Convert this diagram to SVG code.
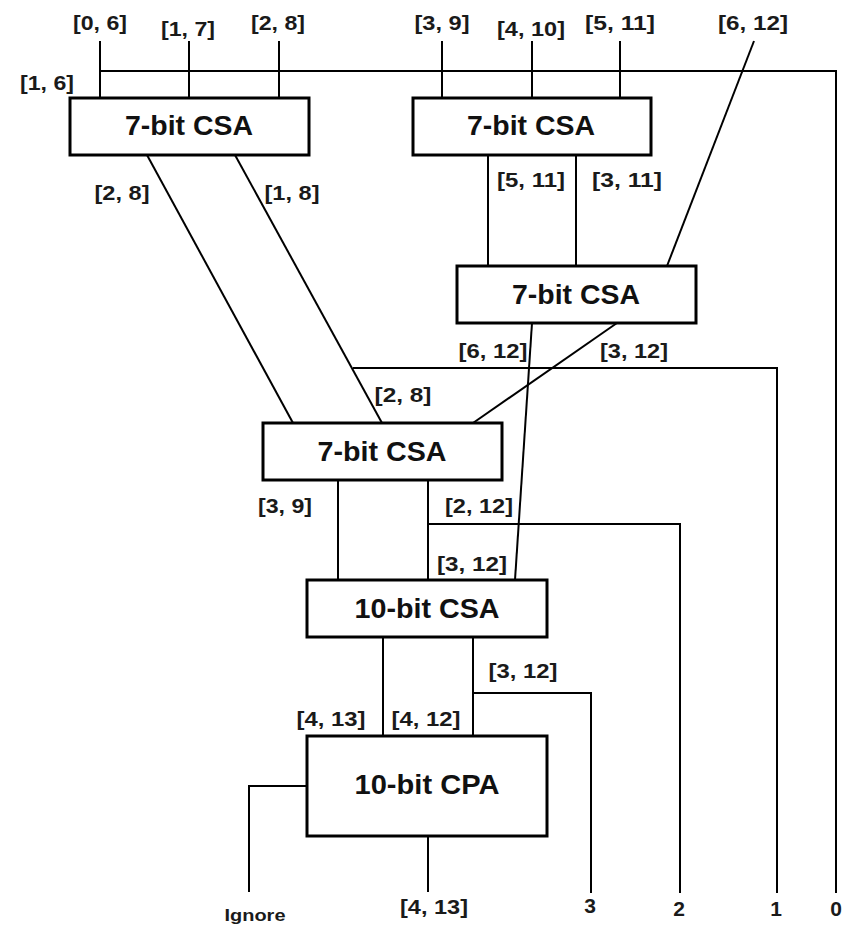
<svg xmlns="http://www.w3.org/2000/svg" width="852" height="926" viewBox="0 0 852 926">
<style>
.box{fill:#fff;stroke:#000;stroke-width:3}
.w{fill:none;stroke:#000;stroke-width:2;stroke-linejoin:miter}
.bt{font-family:"Liberation Sans",Arial,sans-serif;font-weight:bold;font-size:28px;text-anchor:middle;fill:#111}
.lb{font-family:"Liberation Sans",Arial,sans-serif;font-weight:bold;font-size:21px;text-anchor:middle;fill:#1a1a1a}
.sm{font-family:"Liberation Sans",Arial,sans-serif;font-weight:bold;font-size:17px;text-anchor:middle;fill:#1a1a1a}
</style>
<rect width="852" height="926" fill="#fff"/>
<g id="connectors">
<line class="w" x1="100" y1="41" x2="100" y2="98"/>
<line class="w" x1="189" y1="41" x2="189" y2="98"/>
<line class="w" x1="279" y1="41" x2="279" y2="98"/>
<polyline class="w" points="100,71 836,71 836,893"/>
<line class="w" x1="442" y1="41" x2="442" y2="98"/>
<line class="w" x1="532" y1="41" x2="532" y2="98"/>
<line class="w" x1="620" y1="41" x2="620" y2="98"/>
<line class="w" x1="754" y1="41" x2="667" y2="266"/>
<line class="w" x1="488" y1="155" x2="488" y2="266"/>
<line class="w" x1="576" y1="155" x2="576" y2="266"/>
<line class="w" x1="147" y1="155" x2="293" y2="423"/>
<line class="w" x1="235" y1="155" x2="382" y2="423"/>
<polyline class="w" points="353,368 777,368 777,893"/>
<line class="w" x1="532" y1="323" x2="515" y2="580"/>
<line class="w" x1="617" y1="323" x2="473" y2="423"/>
<line class="w" x1="338" y1="480" x2="338" y2="580"/>
<line class="w" x1="428" y1="480" x2="428" y2="580"/>
<polyline class="w" points="428,524 680,524 680,893"/>
<line class="w" x1="383" y1="637" x2="383" y2="736"/>
<line class="w" x1="473" y1="637" x2="473" y2="736"/>
<polyline class="w" points="473,693 591,693 591,893"/>
<polyline class="w" points="307,786 249,786 249,892"/>
<line class="w" x1="428" y1="836" x2="428" y2="892"/>
</g>
<g id="csa1">
<rect class="box" x="70" y="98" width="239" height="57"/>
<text class="bt" x="189" y="135" textLength="128" lengthAdjust="spacingAndGlyphs">7-bit CSA</text>
</g>
<g id="csa2">
<rect class="box" x="413" y="98" width="238" height="57"/>
<text class="bt" x="531" y="135" textLength="128" lengthAdjust="spacingAndGlyphs">7-bit CSA</text>
</g>
<g id="csa3">
<rect class="box" x="457" y="266" width="239" height="57"/>
<text class="bt" x="576" y="304" textLength="128" lengthAdjust="spacingAndGlyphs">7-bit CSA</text>
</g>
<g id="csa4">
<rect class="box" x="263" y="423" width="239" height="57"/>
<text class="bt" x="382" y="461" textLength="129" lengthAdjust="spacingAndGlyphs">7-bit CSA</text>
</g>
<g id="csa10">
<rect class="box" x="307" y="580" width="240" height="57"/>
<text class="bt" x="427" y="618" textLength="145" lengthAdjust="spacingAndGlyphs">10-bit CSA</text>
</g>
<g id="cpa10">
<rect class="box" x="307" y="736" width="240" height="100"/>
<text class="bt" x="427" y="794" textLength="145" lengthAdjust="spacingAndGlyphs">10-bit CPA</text>
</g>
<g id="labels">
<text class="lb" x="100" y="30" textLength="54" lengthAdjust="spacingAndGlyphs">[0, 6]</text>
<text class="lb" x="188" y="36" textLength="54" lengthAdjust="spacingAndGlyphs">[1, 7]</text>
<text class="lb" x="278" y="30" textLength="54" lengthAdjust="spacingAndGlyphs">[2, 8]</text>
<text class="lb" x="47" y="90" textLength="54" lengthAdjust="spacingAndGlyphs">[1, 6]</text>
<text class="lb" x="442" y="30" textLength="55" lengthAdjust="spacingAndGlyphs">[3, 9]</text>
<text class="lb" x="531" y="36" textLength="68" lengthAdjust="spacingAndGlyphs">[4, 10]</text>
<text class="lb" x="620" y="30" textLength="70" lengthAdjust="spacingAndGlyphs">[5, 11]</text>
<text class="lb" x="753" y="30" textLength="70" lengthAdjust="spacingAndGlyphs">[6, 12]</text>
<text class="lb" x="531" y="187" textLength="68" lengthAdjust="spacingAndGlyphs">[5, 11]</text>
<text class="lb" x="627" y="187" textLength="70" lengthAdjust="spacingAndGlyphs">[3, 11]</text>
<text class="lb" x="122" y="200" textLength="55" lengthAdjust="spacingAndGlyphs">[2, 8]</text>
<text class="lb" x="292" y="200" textLength="55" lengthAdjust="spacingAndGlyphs">[1, 8]</text>
<text class="lb" x="493" y="358" textLength="69" lengthAdjust="spacingAndGlyphs">[6, 12]</text>
<text class="lb" x="634" y="358" textLength="68" lengthAdjust="spacingAndGlyphs">[3, 12]</text>
<text class="lb" x="403" y="402" textLength="57" lengthAdjust="spacingAndGlyphs">[2, 8]</text>
<text class="lb" x="285" y="513" textLength="54" lengthAdjust="spacingAndGlyphs">[3, 9]</text>
<text class="lb" x="479" y="513" textLength="68" lengthAdjust="spacingAndGlyphs">[2, 12]</text>
<text class="lb" x="472" y="571" textLength="70" lengthAdjust="spacingAndGlyphs">[3, 12]</text>
<text class="lb" x="523" y="678" textLength="69" lengthAdjust="spacingAndGlyphs">[3, 12]</text>
<text class="lb" x="331" y="726" textLength="69" lengthAdjust="spacingAndGlyphs">[4, 13]</text>
<text class="lb" x="426" y="726" textLength="69" lengthAdjust="spacingAndGlyphs">[4, 12]</text>
<text class="lb" x="434" y="914" textLength="68" lengthAdjust="spacingAndGlyphs">[4, 13]</text>
<text class="lb" x="590" y="913">3</text>
<text class="lb" x="679" y="916">2</text>
<text class="lb" x="776" y="916">1</text>
<text class="lb" x="836" y="916">0</text>
<text class="sm" x="255" y="921" textLength="61" lengthAdjust="spacingAndGlyphs">Ignore</text>
</g>
</svg>
